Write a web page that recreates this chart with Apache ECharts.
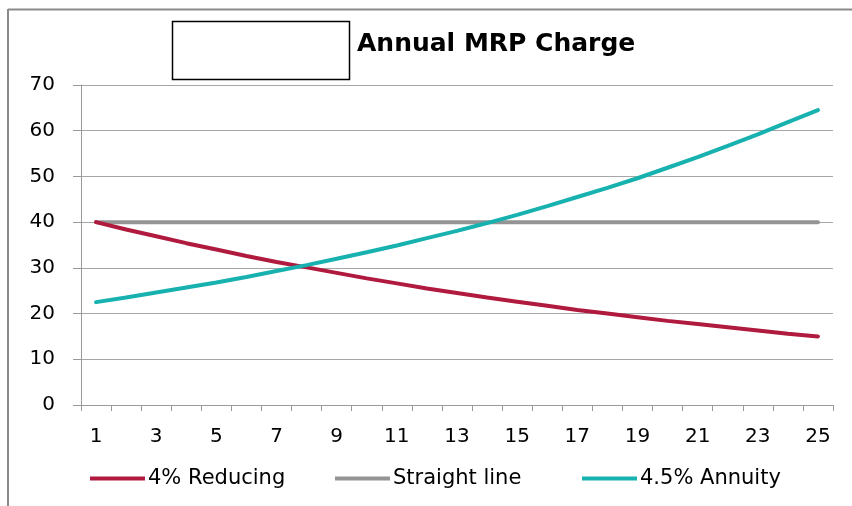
<!DOCTYPE html>
<html><head><meta charset="utf-8">
<script src="https://cdn.jsdelivr.net/npm/echarts@6/dist/echarts.min.js"></script>
<style>
html,body{margin:0;padding:0;background:#fff;}
#c{width:852px;height:506px;}
</style></head>
<body><div id="c"></div>
<script>
const categories = ['1','2','3','4','5','6','7','8','9','10','11','12','13','14','15','16','17','18','19','20','21','22','23','24','25'];
const reducing = [40,38.4,36.9,35.4,34,32.6,31.3,30.1,28.9,27.7,26.6,25.5,24.5,23.5,22.6,21.7,20.8,20,19.2,18.4,17.7,17,16.3,15.6,15];
const straight = [40,40,40,40,40,40,40,40,40,40,40,40,40,40,40,40,40,40,40,40,40,40,40,40,40];
const annuity = [22.5,23.5,24.6,25.7,26.8,28,29.3,30.6,32,33.4,34.9,36.5,38.1,39.8,41.6,43.5,45.5,47.5,49.6,51.9,54.2,56.7,59.2,61.9,64.5];
const seriesNames = ['4% Reducing','Straight line','4.5% Annuity'];
const colors = ['#B01A3E','#949494','#17B2AF'];
const FONT = '"DejaVu Sans",Verdana,sans-serif';

const chart = echarts.init(document.getElementById('c'), null, {renderer:'canvas'});
const data = [reducing, straight, annuity];
const legendLefts = [85, 330, 577];
chart.setOption({
  animation:false,
  title:{text:'Annual MRP Charge', left:352, top:27,
    textStyle:{fontFamily:FONT, fontSize:25, fontWeight:'bold', color:'#000'}},
  graphic:[
    {type:'rect', shape:{x:172.5,y:21.5,width:177,height:58}, style:{fill:'#fff',stroke:'#000',lineWidth:1.5}},
    {type:'line', shape:{x1:8,y1:9.5,x2:852,y2:9.5}, style:{stroke:'#8a8a8a',lineWidth:2}},
    {type:'line', shape:{x1:8,y1:9,x2:8,y2:506}, style:{stroke:'#8a8a8a',lineWidth:2}}
  ],
  legend: seriesNames.map((n,i)=>({
    data:[n], top:463, left:legendLefts[i], itemWidth:55, itemHeight:4, icon:'rect',
    textStyle:{fontFamily:FONT, fontSize:21, color:'#000', padding:[0,0,0,-2]}
  })),
  grid:{left:81, right:19, top:85, bottom:101, containLabel:false},
  xAxis:{type:'category', data:categories, boundaryGap:true,
    axisLine:{lineStyle:{color:'#9a9a9a'}},
    axisTick:{show:true, interval:0, length:6, lineStyle:{color:'#9a9a9a'}},
    axisLabel:{interval:1, margin:22, fontFamily:FONT, fontSize:20, color:'#000'},
    splitLine:{show:false}},
  yAxis:{type:'value', min:0, max:70, interval:10,
    axisLine:{show:true, lineStyle:{color:'#9a9a9a'}},
    axisTick:{show:true, length:8, lineStyle:{color:'#9a9a9a'}},
    axisLabel:{margin:26, fontFamily:FONT, fontSize:20, color:'#000'},
    splitLine:{lineStyle:{color:'#a6a6a6', width:1.2}}},
  series: seriesNames.map((n,i)=>({
    name:n, type:'line', data:data[i], showSymbol:false, symbol:'none',
    smooth:false, z: i===1?1:2,
    lineStyle:{color:colors[i], width:4, cap:'round'},
    itemStyle:{color:colors[i]}
  }))
});
</script></body></html>
